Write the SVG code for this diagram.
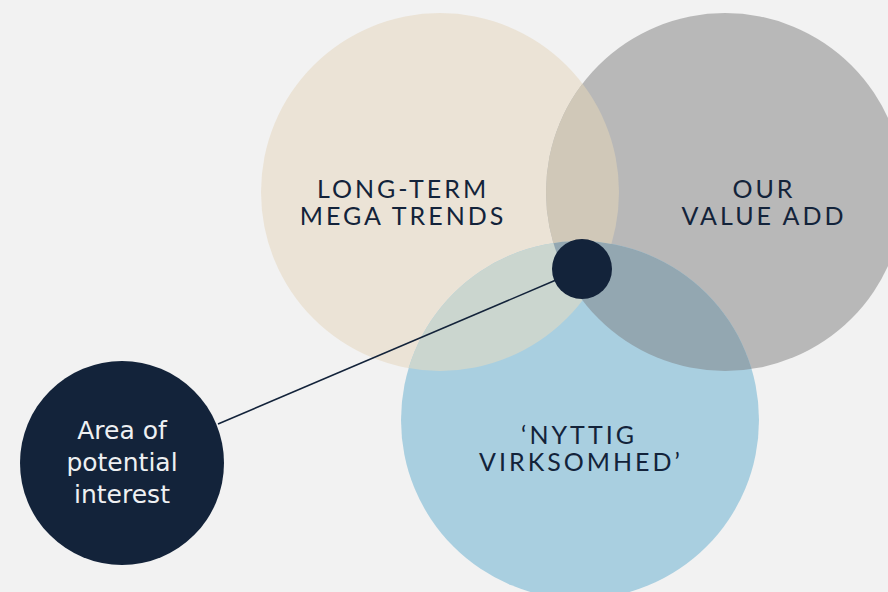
<svg xmlns="http://www.w3.org/2000/svg" width="888" height="592" viewBox="0 0 888 592">
<style>
.lbl{font-family:Lato,"Liberation Sans",sans-serif;font-size:25px;fill:#13233a;text-anchor:middle;letter-spacing:3px}
.wl{font-family:"DejaVu Sans",sans-serif;font-size:25px;fill:#eef0f2;text-anchor:middle}
</style>
<defs>
<clipPath id="cBeige"><circle cx="440" cy="192" r="179"/></clipPath>
<clipPath id="cBlue"><circle cx="580" cy="420" r="179"/></clipPath>
</defs>
<rect width="888" height="592" fill="#f2f2f2"/>
<g id="beige"><circle cx="440" cy="192" r="179" fill="#ebe3d6"/></g>
<g id="gray"><circle cx="725" cy="192" r="179" fill="#b8b8b8"/></g>
<g id="blue"><circle cx="580" cy="420" r="179" fill="#a9cfe0"/></g>
<g id="overlaps">
<circle cx="725" cy="192" r="179" fill="#d0c8b8" clip-path="url(#cBeige)"/>
<g clip-path="url(#cBlue)">
<circle cx="440" cy="192" r="179" fill="#cbd6cf"/>
<circle cx="725" cy="192" r="179" fill="#93a7b1"/>
</g>
</g>
<g id="connectors">
<line x1="218" y1="424" x2="556" y2="280" stroke="#13233a" stroke-width="1.5"/>
</g>
<g id="center"><circle cx="582" cy="269" r="30" fill="#13233a"/></g>
<g id="area"><circle cx="122" cy="463" r="102" fill="#13233a"/>
<text class="wl" x="122" y="439">Area of</text>
<text class="wl" x="122" y="471">potential</text>
<text class="wl" x="122" y="503">interest</text>
</g>
<g id="t1"><text class="lbl" x="403" y="198">LONG-TERM</text><text class="lbl" x="403" y="225">MEGA TRENDS</text></g>
<g id="t2"><text class="lbl" x="764" y="198">OUR</text><text class="lbl" x="764" y="225">VALUE ADD</text></g>
<g id="t3"><text class="lbl" x="579" y="444">‘NYTTIG</text><text class="lbl" x="581" y="471">VIRKSOMHED’</text></g>
</svg>
